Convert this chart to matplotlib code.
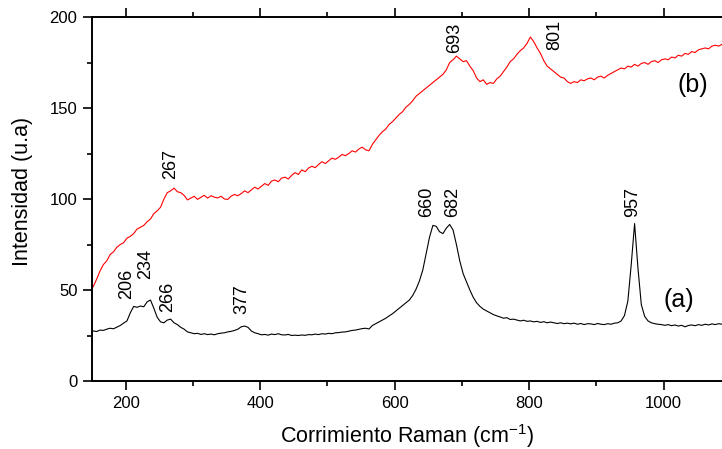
import numpy as np
import matplotlib
matplotlib.use("Agg")
import matplotlib.pyplot as plt
from matplotlib.ticker import MultipleLocator

plt.rcParams['font.family'] = ['Liberation Sans', 'DejaVu Sans']
plt.rcParams['mathtext.fontset'] = 'custom'
plt.rcParams['mathtext.rm'] = 'Liberation Sans'

# wavenumber grid (cm-1), one reading every 5 cm-1
shift = np.arange(147, 1093, 5)

# spectrum (a), black
spec_a = [
    27.0, 27.5, 27.2, 28.0, 27.8, 28.5, 29.0, 28.7, 29.6, 30.5,
    31.8, 33.0, 37.5, 41.0, 40.5, 41.2, 40.8, 43.5, 44.5, 40.0,
    35.0, 32.5, 32.0, 33.5, 34.0, 32.0, 31.0, 29.5, 28.5, 27.0,
    26.5, 26.0, 26.2, 25.6, 26.0, 25.5, 25.8, 25.4, 26.0, 26.3,
    26.5, 27.0, 27.3, 27.8, 28.5, 29.8, 30.2, 29.5, 27.5, 26.5,
    26.0, 25.4, 25.6, 25.2, 25.8, 25.5, 26.0, 25.4, 25.3, 25.6,
    25.0, 25.2, 25.0, 25.3, 25.1, 25.5, 25.4, 25.8, 25.5, 26.0,
    25.8, 26.2, 26.0, 26.5, 26.6, 26.9, 27.0, 27.4, 27.8, 28.0,
    28.4, 28.8, 29.0, 28.6, 30.5, 31.5, 32.5, 33.5, 34.5, 35.8,
    37.0, 38.5, 40.0, 41.5, 43.0, 44.5, 47.0, 50.5, 55.0, 61.0,
    70.0, 79.0, 85.5, 85.0, 82.0, 81.0, 84.0, 86.0, 83.0, 75.0,
    66.0, 59.0, 54.5, 50.0, 46.0, 43.0, 41.0, 39.5, 38.5, 37.5,
    36.5, 35.8, 35.2, 34.5, 34.8, 33.8, 34.0, 33.5, 33.0, 33.4,
    32.8, 33.0, 32.5, 32.8, 32.2, 32.6, 32.0, 32.4, 32.0, 31.6,
    32.0, 31.5, 31.8, 31.4, 31.8, 31.2, 31.6, 31.0, 31.5, 31.4,
    31.0, 31.6, 31.2, 31.0, 31.5, 31.2, 31.8, 32.0, 33.0, 36.0,
    44.0, 64.0, 86.5, 62.0, 42.0, 35.5, 33.0, 32.0, 31.5, 31.2,
    31.0, 30.6, 31.0, 30.4, 30.8, 30.2, 30.6, 29.8, 30.5, 30.8,
    30.4, 31.0, 30.6, 31.2, 30.8, 31.4, 31.0, 31.5, 31.2, 31.4,
]

# spectrum (b), red
spec_b = [
    49.0, 52.0, 56.0, 60.5, 64.0, 66.0, 69.5, 71.0, 73.5, 75.0,
    76.0, 78.5, 79.5, 81.0, 83.5, 84.5, 85.5, 87.5, 89.0, 92.0,
    93.5, 95.5, 100.0, 103.5, 104.5, 106.0, 104.0, 103.5, 102.0, 99.5,
    100.5, 101.5, 99.8, 101.0, 102.0, 100.5, 101.8, 101.0, 100.6, 101.5,
    100.0, 99.8, 101.6, 102.5, 101.8, 103.0, 104.5, 103.5, 105.0, 106.5,
    105.5, 107.0, 108.5, 107.5, 109.8, 110.5, 109.5, 111.5, 112.0, 111.0,
    113.0, 114.5, 113.5, 116.0, 115.0, 117.0, 118.0, 117.2, 119.0, 120.5,
    119.5, 121.0, 122.5, 121.8, 123.0, 124.5, 123.8, 125.0, 126.5, 125.8,
    127.5, 128.5, 127.0, 126.5, 130.0, 132.5, 135.0, 137.0, 138.5, 141.0,
    142.5, 144.5, 146.5, 148.0, 150.5, 152.0, 154.0, 156.5, 158.0, 159.5,
    161.0, 162.5, 164.0, 165.5, 167.0, 168.5, 171.0, 175.0, 176.5, 178.5,
    177.0, 175.5, 176.0, 173.0, 170.5, 166.5, 164.5, 165.5, 163.0, 164.0,
    163.5, 166.0, 167.5, 170.0, 172.5, 175.5, 177.0, 179.5, 181.5, 183.0,
    185.5, 189.0, 186.5, 183.0, 180.0, 176.0, 173.0, 171.5, 170.0, 168.5,
    167.0, 166.5, 164.5, 163.5, 164.5, 164.0, 165.5, 165.0, 166.0, 166.5,
    165.5, 167.0, 167.5, 166.5, 168.0, 169.0, 170.0, 171.0, 172.0, 171.5,
    173.0, 172.5, 174.0, 173.0, 174.5, 175.0, 174.0, 175.5, 176.0, 175.0,
    176.5, 177.0, 176.5, 178.0, 177.5, 179.0, 178.5, 180.0, 179.5, 181.0,
    180.5, 182.0, 182.5, 183.0, 182.5, 184.0, 184.5, 184.0, 185.0, 185.5,
]

# peak labels: (text, x, y of text bottom)
labels_a = [("206", 202, 45), ("234", 230, 56), ("266", 263, 38),
            ("377", 373, 37), ("660", 648, 90), ("682", 687, 90),
            ("957", 954, 90)]
labels_b = [("267", 267, 111), ("693", 690, 180), ("801", 838, 182)]

fig = plt.figure(figsize=(7.22, 4.49), dpi=100)
ax = fig.add_axes([0.1274, 0.1514, 0.8726, 0.8107])

ax.plot(shift, spec_a, color='black', linewidth=0.8)
ax.plot(shift, spec_b, color='red', linewidth=0.8)

for txt, x, y in labels_a + labels_b:
    ax.text(x, y, txt, rotation=90, ha='center', va='bottom', fontsize=13)

ax.text(1023, 44.5, "(a)", ha='center', va='center', fontsize=18)
ax.text(1044, 162.5, "(b)", ha='center', va='center', fontsize=18)

ax.set_xlim(150, 1087)
ax.set_ylim(0, 200)
ax.xaxis.set_major_locator(MultipleLocator(200))
ax.xaxis.set_minor_locator(MultipleLocator(100))
ax.yaxis.set_major_locator(MultipleLocator(50))
ax.yaxis.set_minor_locator(MultipleLocator(25))
ax.tick_params(which='both', direction='out', top=True, labelsize=12,
               width=1.2, color='black', pad=4)
ax.tick_params(which='major', length=6.5)
ax.tick_params(which='minor', length=3.5)
ax.spines['right'].set_visible(False)
for s in ('left', 'bottom', 'top'):
    ax.spines[s].set_linewidth(1.4)

ax.set_xlabel("Corrimiento Raman (cm$^{\\mathrm{-1}}$)", fontsize=15.5)
ax.set_ylabel("Intensidad (u.a)", fontsize=15.5)
ax.xaxis.set_label_coords(0.5, -0.112)
ax.yaxis.set_label_coords(-0.094, 0.522)

fig.savefig("out.png", dpi=100)
